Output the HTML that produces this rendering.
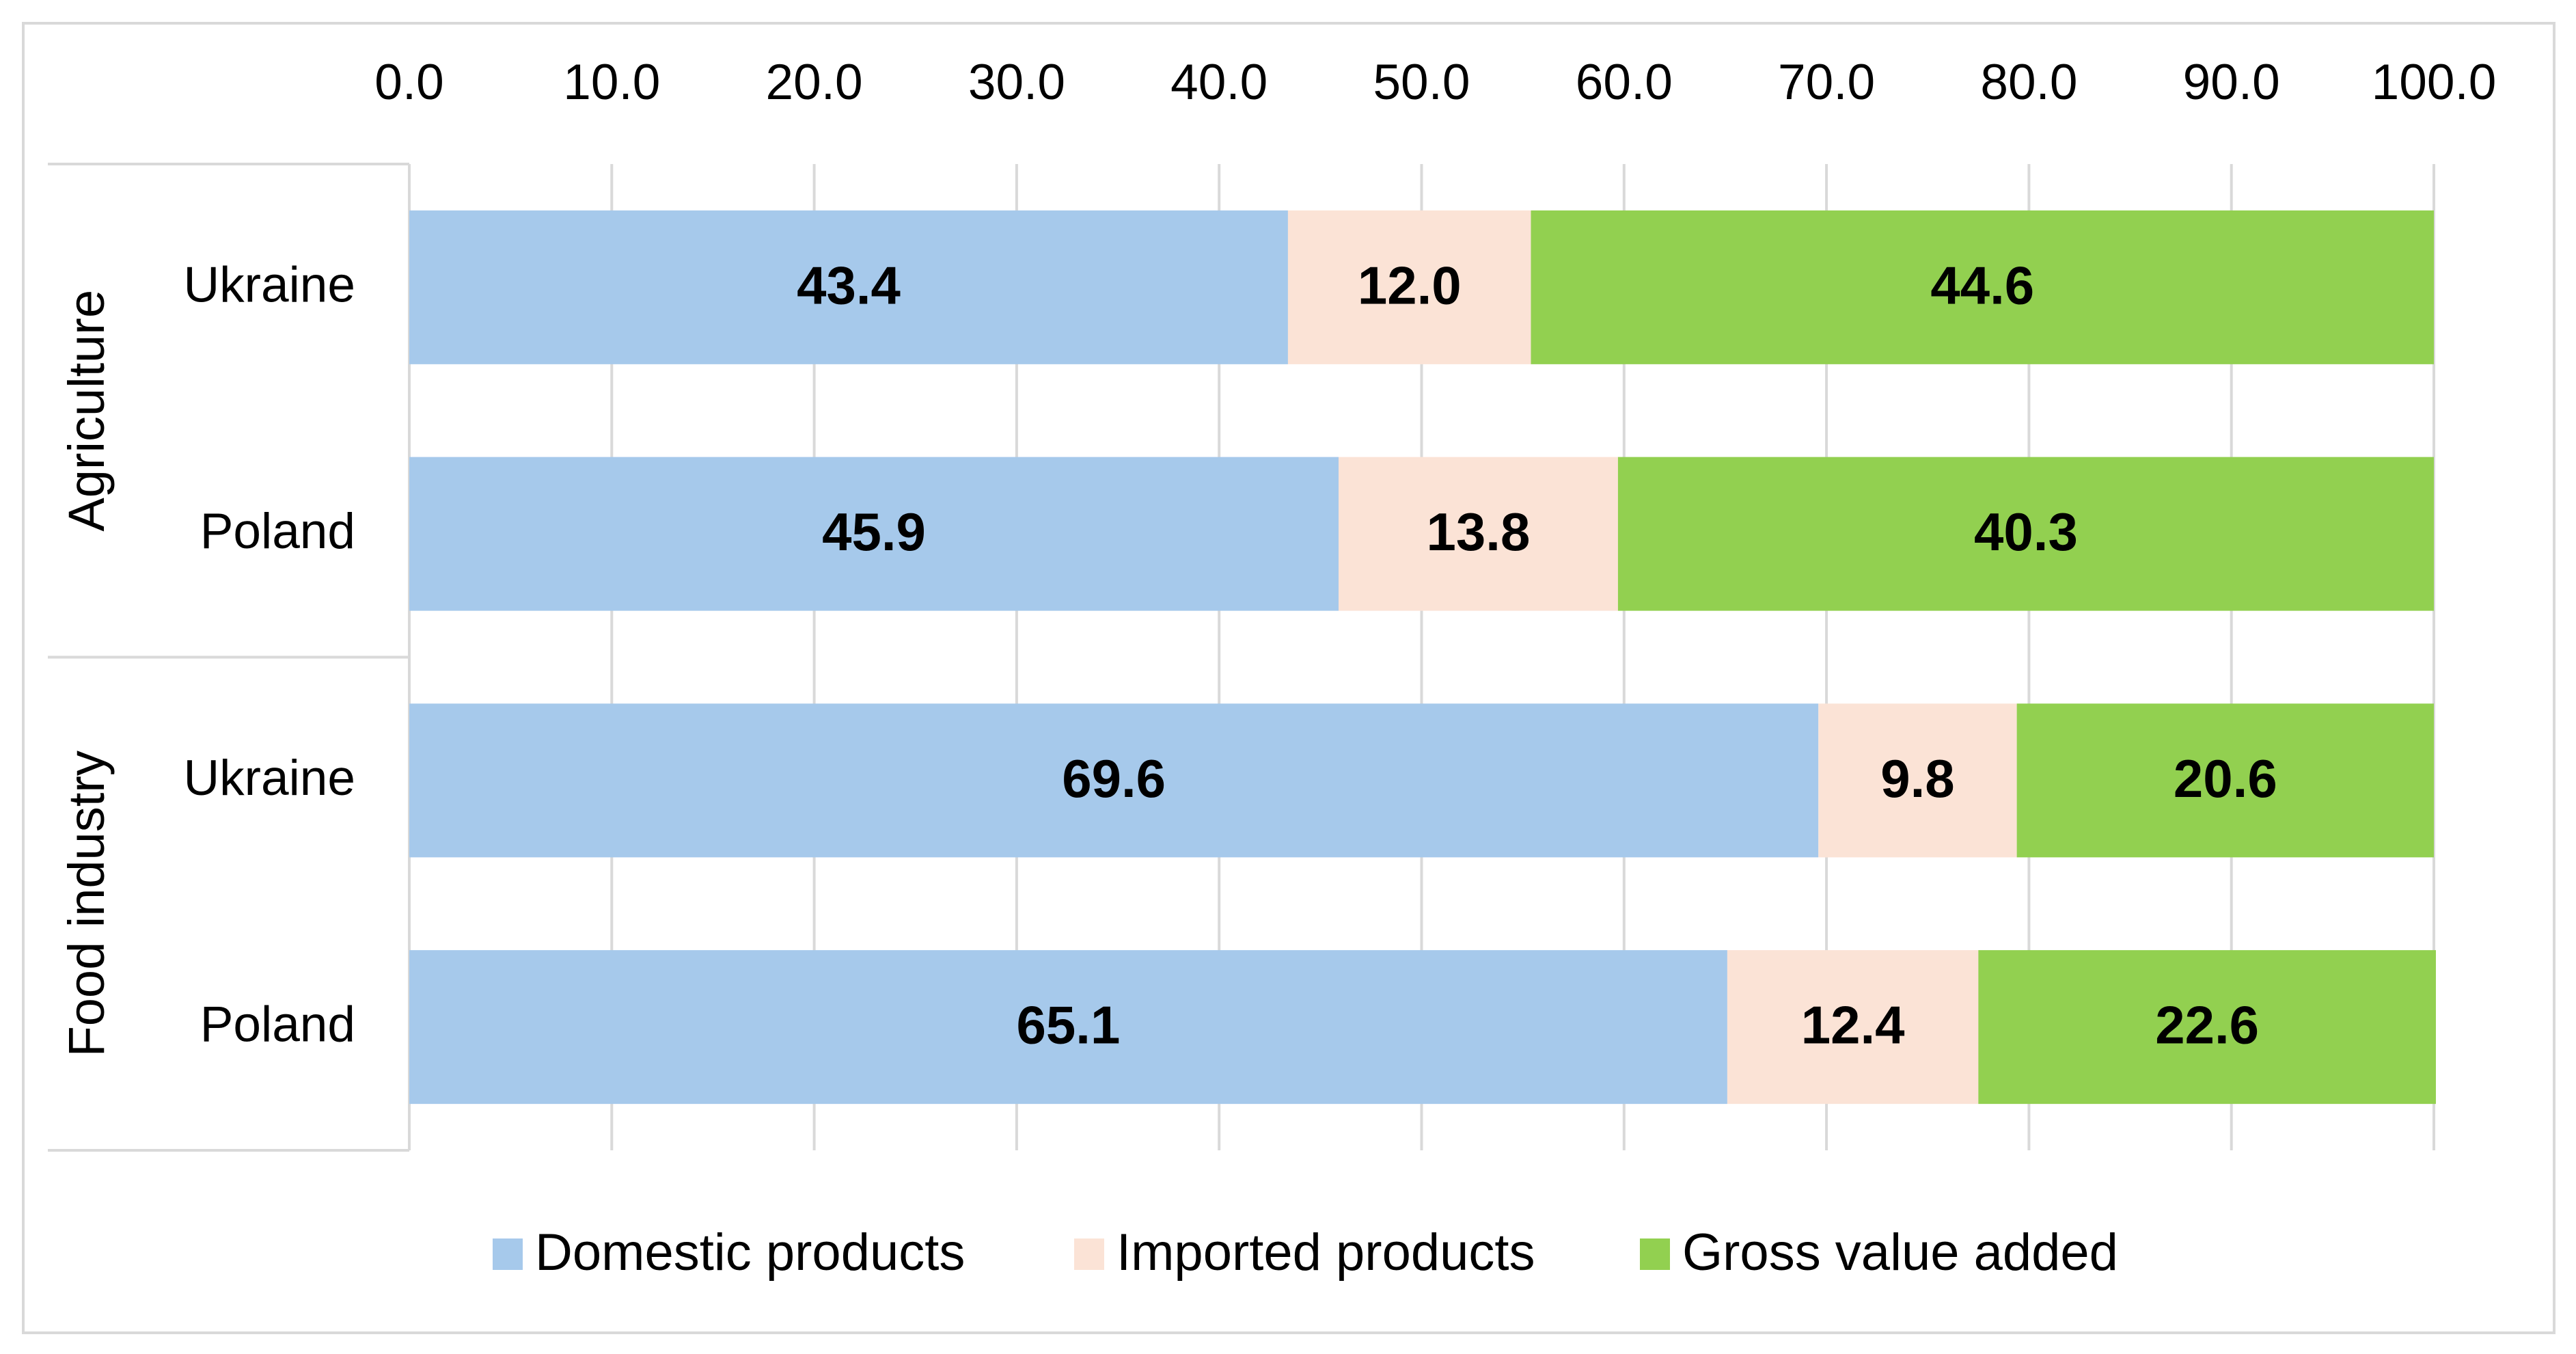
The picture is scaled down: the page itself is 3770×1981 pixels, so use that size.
<!DOCTYPE html>
<html><head><meta charset="utf-8"><style>
html,body{margin:0;padding:0;background:#fff}
svg{display:block}
text{font-family:"Liberation Sans",sans-serif;fill:#000}
</style></head><body>
<svg id="chart" width="3770" height="1981" viewBox="0 0 3770 1981" xmlns="http://www.w3.org/2000/svg">
<rect x="34" y="34" width="3704" height="1916" fill="#fff" stroke="#d9d9d9" stroke-width="4"/>
<g id="grid"></g><g id="bars"></g><g id="labels"></g><g id="legend"></g>
</svg>
<script>
const categories = ["Ukraine","Poland","Ukraine","Poland"];
const groups = ["Agriculture","Food industry"];
const domestic = [43.4, 45.9, 69.6, 65.1];
const imported = [12.0, 13.8, 9.8, 12.4];
const gva = [44.6, 40.3, 20.6, 22.6];
const ticks = [0,10,20,30,40,50,60,70,80,90,100];
const seriesNames = ["Domestic products","Imported products","Gross value added"];
const colors = ["#a6c9eb","#fbe3d6","#92d050"];

const NS="http://www.w3.org/2000/svg";
const X0=599, X1=3562, Y0=240, Y1=1683;
const band=(Y1-Y0)/categories.length, barH=225;
function x(v){return X0+(X1-X0)*v/100;}
function yc(i){return Y0+band*(i+0.5);}
function mk(tag,attrs,parent,txt){const e=document.createElementNS(NS,tag);for(const k in attrs)e.setAttribute(k,attrs[k]);if(txt!==undefined)e.textContent=txt;parent.appendChild(e);return e;}
const grid=document.getElementById('grid'),bars=document.getElementById('bars'),labels=document.getElementById('labels'),legend=document.getElementById('legend');

ticks.forEach(t=>{
  if(t>0){const l=mk('line',{x1:x(t),x2:x(t),y1:Y0,y2:Y1,stroke:'#d9d9d9','stroke-width':4},grid);
  
  }
  const tx=mk('text',{x:x(t),y:145,'font-size':73,'text-anchor':'middle'},labels,t.toFixed(1));
  
  
});
[[X0,Y0,X0,Y1],[70,Y0,X0,Y0],[70,(Y0+Y1)/2,X0,(Y0+Y1)/2],[70,Y1,X0,Y1]].forEach((p,i)=>{
  const l=mk('line',{x1:p[0],y1:p[1],x2:p[2],y2:p[3],stroke:'#d9d9d9','stroke-width':4},grid);
  
  
});
const series=[domestic,imported,gva];
categories.forEach((c,i)=>{
  let acc=0;
  series.forEach((s,k)=>{
    const v=s[i];
    const r=mk('rect',{x:x(acc),y:yc(i)-barH/2,width:x(acc+v)-x(acc),height:barH,fill:colors[k]},bars);
    
    
    const t=mk('text',{x:(x(acc)+x(acc+v))/2,y:yc(i)+24,'font-size':78,'font-weight':'bold','text-anchor':'middle'},labels,v.toFixed(1));
    
    
    acc+=v;
  });
  const cl=mk('text',{x:520,y:yc(i)+21,'font-size':73,'text-anchor':'end'},labels,c);
  
  
});
groups.forEach((g,j)=>{
  const cy=Y0+(Y1-Y0)/2*(j+0.5);
  const t=mk('text',{x:0,y:0,'font-size':74,'text-anchor':'middle',transform:`translate(152 ${cy}) rotate(-90)`},labels,g);
  
  
});
const lx=[721,1572,2400];
seriesNames.forEach((n,k)=>{
  const r=mk('rect',{x:lx[k],y:1812,width:44,height:46,fill:colors[k]},legend);
  
  
  const t=mk('text',{x:lx[k]+62,y:1858,'font-size':76},legend,n);
  
  
});
</script>
</body></html>
